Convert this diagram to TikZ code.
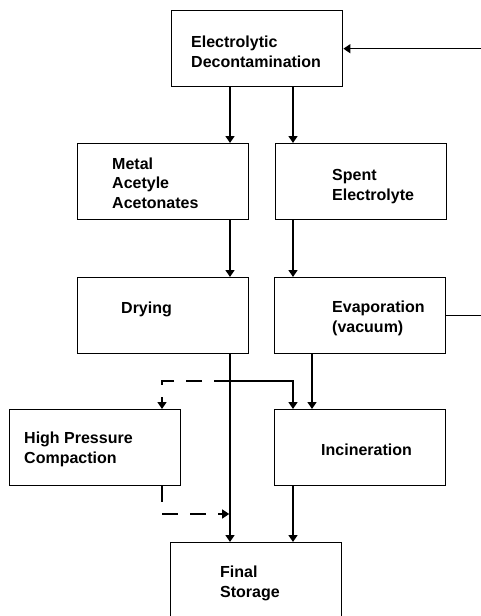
\documentclass[tikz,border=0pt]{standalone}
\usepackage{fontspec}
\setmainfont{Liberation Sans}
\usetikzlibrary{arrows.meta}

\begin{document}
\begin{tikzpicture}[x=1pt,y=-1pt]
    \tikzset{box/.style={draw, line width=1.4pt, rectangle, anchor=north west, minimum width=171pt, minimum height=76pt, inner sep=0pt}}
    \tikzset{txt/.style={anchor=base west, align=left, inner sep=0pt, font=\fontsize{16}{19.5}\selectfont\bfseries}}
    \tikzset{flow/.style={line width=1.4pt, -{Triangle[length=7pt,width=9pt]}}}
    \tikzset{alt/.style={flow, dash pattern=on 16pt off 12pt}}
    \useasboundingbox (0,0) rectangle (480,616);
    \node[box] (decon) at (171,10) {};
    \node[box] (metal) at (77,143) {};
    \node[box] (spent) at (275,143) {};
    \node[box] (drying) at (77,277) {};
    \node[box] (evap) at (274,277) {};
    \node[box] (hpc) at (9,409) {};
    \node[box] (incin) at (274,409) {};
    \node[box, minimum height=110pt] (final) at (170,542) {};
    \node[txt] (decon-t) at (191,67) {Electrolytic\\Decontamination};
    \node[txt] (metal-t) at (112,208) {Metal\\Acetyle\\Acetonates};
    \node[txt] (spent-t) at (332,200) {Spent\\Electrolyte};
    \node[txt] (drying-t) at (121,313) {Drying};
    \node[txt] (evap-t) at (332,332) {Evaporation\\(vacuum)};
    \node[txt] (hpc-t) at (24,463) {High Pressure\\Compaction};
    \node[txt] (incin-t) at (321,455) {Incineration};
    \node[txt] (final-t) at (220,597) {Final\\Storage};
    \coordinate (xa) at (230,0);
    \coordinate (xb) at (293,0);
    \coordinate (xc) at (312,0);
    \coordinate (xd) at (162,0);
    \coordinate (ret) at (495,0);
    \coordinate (split) at (230,381);
    \coordinate (join) at (230,514);
    \draw[flow] (decon.south -| xa) -- (metal.north -| xa);
    \draw[flow] (decon.south -| xb) -- (spent.north -| xb);
    \draw[flow] (metal.south -| xa) -- (drying.north -| xa);
    \draw[flow] (spent.south -| xb) -- (evap.north -| xb);
    \draw[flow] (drying.south -| xa) -- (final.north -| xa);
    \draw[flow] (split) -| (incin.north -| xb);
    \draw[flow] (evap.south -| xc) -- (incin.north -| xc);
    \draw[flow] (incin.south -| xb) -- (final.north -| xb);
    \draw[alt] (split) -| (hpc.north -| xd);
    \draw[alt, shorten >=0.8pt] (hpc.south -| xd) |- (join);
    \draw[flow] (evap.east) -- (evap.east -| ret) -- (decon.east -| ret) -- (decon.east);
\end{tikzpicture}
\end{document}
